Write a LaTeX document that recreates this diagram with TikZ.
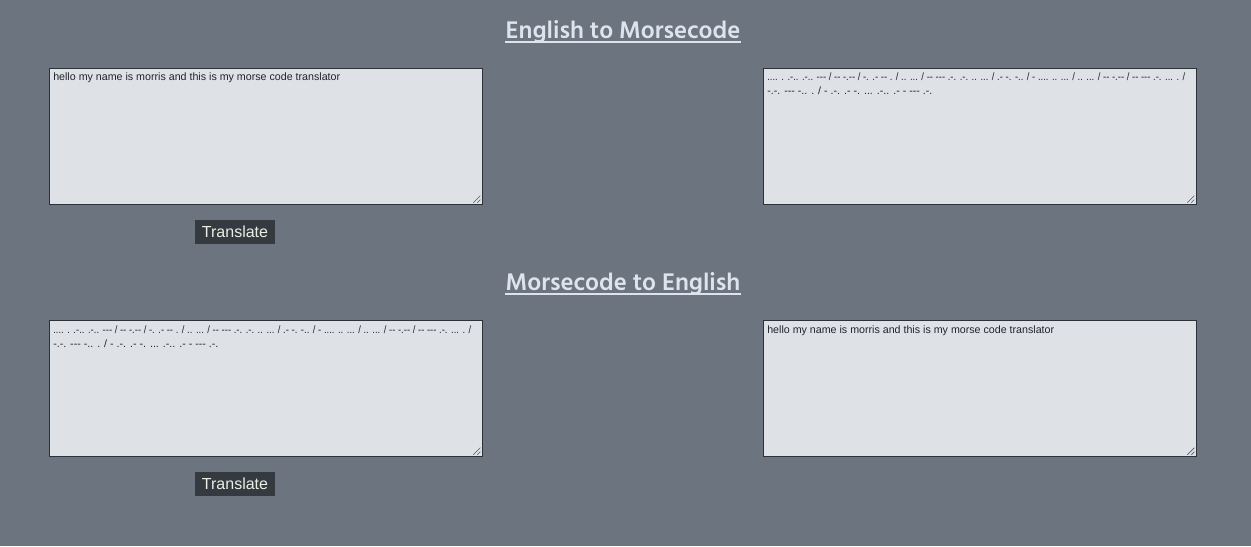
\documentclass[tikz,border=0pt]{standalone}
\usepackage{fontspec}
\setmainfont{Liberation Sans}
\newfontfamily\areafont{Liberation Sans}[Ligatures=TeXOff]
\newfontfamily\morsefont{Liberation Sans}[Ligatures=TeXOff, FakeStretch=0.89]
\newfontfamily\headfont{Hind Siliguri}
\usetikzlibrary{positioning}
\definecolor{pagebg}{RGB}{108,116,127}
\definecolor{areabg}{RGB}{222,226,231}
\definecolor{arealine}{RGB}{45,50,56}
\definecolor{areatext}{RGB}{33,37,41}
\definecolor{btnbg}{RGB}{52,58,64}
\definecolor{btntext}{RGB}{236,238,228}
\definecolor{headtext}{RGB}{222,228,236}
\newcommand{\plaintext}{hello my name is morris and this is my morse code translator}
\newcommand{\morsetext}{\morsefont .... . .-.. .-.. --- / -- -.-- / -. .- -- . / .. ... / -- --- .-. .-. .. ... / .- -. -.. / - .... .. ... / .. ... / -- -.-- / -- --- .-. ... . /\\-.-. --- -.. . / - .-. .- -. ... .-.. .- - --- .-.}

\begin{document}
\begin{tikzpicture}[x=0.75pt,y=-0.75pt,
	area/.style={draw=arealine, fill=areabg, line width=0.75pt, inner sep=0pt, outer sep=0pt,
		minimum width=325pt, minimum height=102.5pt, anchor=north west},
	areaword/.style={text=areatext, font=\areafont\fontsize{8}{10.5}\selectfont, inner sep=0pt,
		align=left, anchor=north west},
	grip/.style={draw=arealine!80, line width=0.5pt},
	btn/.style={fill=btnbg, text=btntext, font=\fontsize{12}{14}\selectfont,
		minimum width=60pt, minimum height=18pt, inner sep=0pt},
	head/.style={text=headtext, font=\headfont\bfseries\fontsize{18.5}{22}\selectfont, inner sep=0pt}]
	\useasboundingbox (0,0) rectangle (1251,546);
	\fill[pagebg] (0,0) rectangle (1251,546);
	\foreach \idx/\headline/\lefttext/\righttext in {0/English to Morsecode/\plaintext/\morsetext,
		1/Morsecode to English/\morsetext/\plaintext} {
		\pgfmathsetmacro{\dy}{252*\idx}
		% heading with underline
		\node[head, anchor=base] (head\idx) at (623,{38+\dy}) {\headline};
		\draw[headtext, line width=1.5pt] ([yshift=-3pt]head\idx.base west) -- ([yshift=-3pt]head\idx.base east);
		% the two text areas
		\node[area] (in\idx) at (49,{68+\dy}) {};
		\node[area] (out\idx) at (763,{68+\dy}) {};
		\node[areaword] (intext\idx) at ([shift={(4,5)}]in\idx.north west) {\lefttext};
		\node[areaword] (outtext\idx) at ([shift={(4,5)}]out\idx.north west) {\righttext};
		\foreach \boxname in {in\idx,out\idx} {
			\draw[grip] ([shift={(-9,-2)}]\boxname.south east) -- ([shift={(-2,-9)}]\boxname.south east);
			\draw[grip] ([shift={(-5,-2)}]\boxname.south east) -- ([shift={(-2,-5)}]\boxname.south east);
		}
		\node[btn] (go\idx) at (235,{232+\dy}) {Translate};
	}
\end{tikzpicture}
\end{document}
